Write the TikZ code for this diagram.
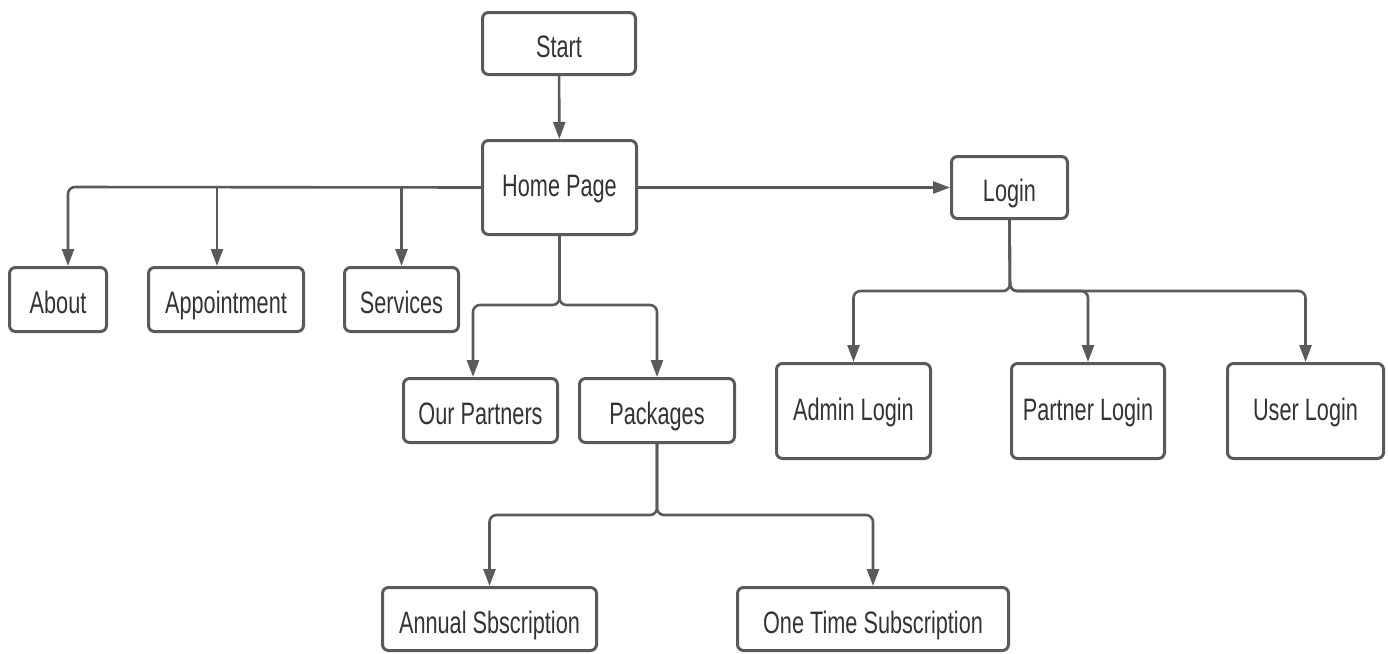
\documentclass[tikz,border=0pt]{standalone}
\usepackage{fontspec}
\setmainfont{Liberation Sans}[FakeStretch=0.7]
\usetikzlibrary{arrows.meta}
\definecolor{edgegray}{HTML}{5A5A5A}
\definecolor{textgray}{HTML}{333333}
\tikzset{
  box/.style={draw=edgegray, line width=3pt, rounded corners=6pt, fill=white,
    text=textgray, font=\fontsize{31}{36}\selectfont, inner sep=0pt,
    align=center, text height=30pt, text depth=2pt},
  tallbox/.style={box, text height=22pt, text depth=4pt},
  arr/.style={draw=edgegray, line width=2.6pt, rounded corners=7pt,
    -{Triangle[length=17pt,width=12pt]}},
}
\begin{document}
\begin{tikzpicture}[x=1pt,y=-1pt]
\useasboundingbox (0,0) rectangle (1388,653);
% nodes
\node[box, minimum width=153pt, minimum height=62pt] (start) at (559,43.5) {Start};
\node[tallbox, minimum width=154pt, minimum height=94pt] (home) at (559.5,187.5) {Home Page};
\node[box, minimum width=116pt, minimum height=62pt] (login) at (1009.5,187.5) {Login};
\node[box, minimum width=97pt, minimum height=64pt] (about) at (58,299.5) {About};
\node[box, minimum width=155pt, minimum height=64pt] (appt) at (226,299.5) {Appointment};
\node[box, minimum width=114pt, minimum height=64pt] (serv) at (401.5,299.5) {Services};
\node[box, minimum width=154pt, minimum height=64pt] (partners) at (480.5,410.5) {Our Partners};
\node[box, minimum width=155pt, minimum height=64pt] (pack) at (657,410.5) {Packages};
\node[tallbox, minimum width=154pt, minimum height=95pt] (admin) at (853.5,411) {Admin Login};
\node[tallbox, minimum width=153pt, minimum height=95pt] (plogin) at (1088,411) {Partner Login};
\node[tallbox, minimum width=156pt, minimum height=95pt] (ulogin) at (1305.5,411) {User Login};
\node[box, minimum width=214pt, minimum height=63pt] (annual) at (489.5,619) {Annual Sbscription};
\node[box, minimum width=271pt, minimum height=63pt] (onetime) at (873,619) {One Time Subscription};
% junction coordinates
\coordinate (ja) at (68,187);
\coordinate (jb) at (217,187);
\coordinate (jc) at (401.5,187);
\coordinate (hs) at (559.5,305);
\coordinate (ls) at (1010,291);
\coordinate (ps) at (657,515);
% connectors
\draw[arr] (start) -- (home);
\draw[arr] (home.east) -- (login.west);
\draw[arr] (home.west) -- (ja) -- (ja |- about.north);
\draw[arr] (jb) -- (jb |- appt.north);
\draw[arr] (jc) -- (serv.north);
\draw[arr] (home.south) -- (hs) -| ([xshift=-7.5pt]partners.north);
\draw[arr] (home.south) -- (hs) -| (pack.north);
\draw[arr] (login.south) -- (ls) -| (admin.north);
\draw[arr] (login.south) -- (ls) -| (plogin.north);
\draw[arr] (login.south) -- (ls) -| (ulogin.north);
\draw[arr] (pack.south) -- (ps) -| (annual.north);
\draw[arr] (pack.south) -- (ps) -| (onetime.north);
\end{tikzpicture}
\end{document}
